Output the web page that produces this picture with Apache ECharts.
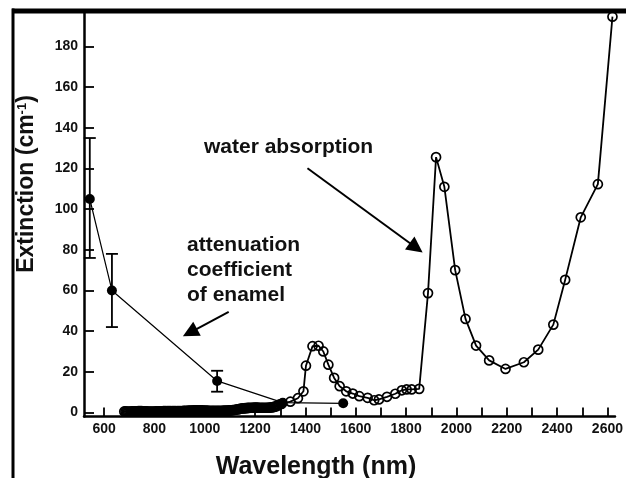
<!DOCTYPE html>
<html><head><meta charset="utf-8">
<script src="https://cdn.jsdelivr.net/npm/echarts@6/dist/echarts.min.js"></script>
<style>html,body{margin:0;padding:0;background:#fff}#c{width:626px;height:478px}</style>
</head><body><div id="c"></div>
<script>
// ---- data ----
const waterX = [
  680,685,690,695,700,705,710,715,720,725,
  730,735,740,745,750,755,760,765,770,775,
  780,785,790,795,800,805,810,815,820,825,
  830,835,840,845,850,855,860,865,870,875,
  880,885,890,895,900,905,910,915,920,925,
  930,935,940,945,950,955,960,965,970,975,
  980,985,990,995,1000,1005,1010,1015,1020,1025,
  1030,1035,1040,1045,1050,1055,1060,1065,1070,1075,
  1080,1085,1090,1095,1100,1105,1110,1115,1120,1125,
  1130,1135,1140,1145,1150,1155,1160,1165,1170,1175,
  1180,1185,1190,1195,1200,1205,1210,1215,1220,1225,
  1230,1235,1240,1245,1250,1255,1260,1265,1270,1275,
  1280,1285,1290,1295,
  1305,1340,1370,1392,1402,1428,1452,1471,1491,1514,
  1536,1562,1588,1614,1647,1673,1692,1724,1757,1783,
  1802,1822,1852,1887,1919,1952,1995,2036,2078,2130,
  2195,2268,2325,2385,2432,2494,2562,2620];
const waterY = [
  0.5,0.5,0.4,0.4,0.4,0.4,0.5,0.5,0.5,0.5,
  0.5,0.6,0.6,0.6,0.6,0.5,0.5,0.5,0.5,0.4,
  0.4,0.4,0.4,0.4,0.4,0.5,0.5,0.5,0.5,0.5,
  0.5,0.6,0.6,0.6,0.6,0.6,0.6,0.6,0.6,0.6,
  0.6,0.7,0.7,0.7,0.7,0.7,0.7,0.8,0.8,0.8,
  0.8,0.9,0.9,0.9,0.9,1.0,1.0,1.0,1.0,1.0,
  1.0,1.0,1.0,0.9,0.9,0.9,0.9,0.8,0.8,0.8,
  0.8,0.8,0.8,0.8,0.8,0.8,0.8,0.8,0.8,0.9,
  0.9,0.9,0.9,1.0,1.0,1.0,1.1,1.2,1.3,1.4,
  1.5,1.6,1.8,1.9,2.0,2.0,2.1,2.1,2.2,2.2,
  2.3,2.3,2.3,2.4,2.4,2.4,2.4,2.3,2.3,2.3,
  2.3,2.3,2.3,2.3,2.3,2.4,2.4,2.5,2.6,2.7,
  2.9,3.1,3.4,3.8,
  4.2,5.3,7.0,10.4,23,32.6,32.8,30,23.5,17,
  12.9,10.4,9.3,8,7.2,6,6.4,7.7,9.2,10.9,
  11.3,11.3,11.6,58.7,125.6,111,70,46,32.9,25.6,
  21.4,24.7,30.9,43.2,65.2,96,112.3,194.7];
const enamelX = [543, 631, 1049, 1310, 1550];
const enamelY = [105, 60, 15.5, 4.8, 4.5];
const enamelErrLow  = [76, 42, 10.2];
const enamelErrHigh = [135, 78, 20.5];
const xTickLabels = [600,800,1000,1200,1400,1600,1800,2000,2200,2400,2600];
const xTickMarks = [600,700,800,900,1000,1100,1200,1300,1400,1500,1600,1700,1800,1900,2000,2100,2200,2300,2400,2500,2600];
const yTickLabels = [0,20,40,60,80,100,120,140,160,180];

const FONT = '"Liberation Sans", Arial, Helvetica, sans-serif';
const chart = echarts.init(document.getElementById('c'), null, {renderer:'canvas'});
const tickLabel = {color:'#111', fontFamily:FONT, fontWeight:'bold', fontSize:14, formatter:function(v){return String(v);}};
const option = {
  animation:false,
  backgroundColor:'#fff',
  grid:{left:84, right:0, top:12, bottom:61.5, containLabel:false},
  xAxis:{type:'value', min:520, max:2630,
    axisLine:{show:true, onZero:false, lineStyle:{color:'#000', width:2.5}},
    axisTick:{show:true, inside:true, length:9, lineStyle:{color:'#000', width:1.8}, customValues:xTickMarks},
    axisLabel:Object.assign({customValues:xTickLabels, margin:6}, tickLabel),
    splitLine:{show:false}},
  yAxis:{type:'value', min:-2, max:197,
    axisLine:{show:true, onZero:false, lineStyle:{color:'#000', width:2.5}},
    axisTick:{show:true, inside:true, length:10, lineStyle:{color:'#000', width:1.8}, customValues:yTickLabels},
    axisLabel:Object.assign({customValues:yTickLabels, margin:6}, tickLabel),
    splitLine:{show:false}},
  series:[
    {type:'line', name:'water', data:waterX.map((x,i)=>[x, waterY[i]]),
      symbol:'circle', symbolSize:9, showAllSymbol:true,
      lineStyle:{color:'#000', width:1.8},
      itemStyle:{color:'rgba(0,0,0,0)', borderColor:'#000', borderWidth:1.7}, z:2},
    {type:'line', name:'enamel', data:enamelX.map((x,i)=>[x, enamelY[i]]),
      symbol:'circle', symbolSize:10,
      lineStyle:{color:'#000', width:1.2},
      itemStyle:{color:'#000'}, z:3},
    {type:'custom', name:'errorbars', z:3,
      data:enamelErrLow.map((lo,i)=>[enamelX[i], lo, enamelErrHigh[i]]),
      encode:{x:0, y:[1,2]},
      renderItem:function(params, api){
        const x = api.value(0);
        const lo = api.coord([x, api.value(1)]);
        const hi = api.coord([x, api.value(2)]);
        const hw = 6, st = {stroke:'#000', lineWidth:1.8};
        return {type:'group', children:[
          {type:'line', shape:{x1:lo[0], y1:lo[1], x2:hi[0], y2:hi[1]}, style:st},
          {type:'line', shape:{x1:lo[0]-hw, y1:lo[1], x2:lo[0]+hw, y2:lo[1]}, style:st},
          {type:'line', shape:{x1:hi[0]-hw, y1:hi[1], x2:hi[0]+hw, y2:hi[1]}, style:st}
        ]};
      }},
    {type:'line', name:'arrows', data:[], silent:true,
      markLine:{silent:true, symbol:['none','triangle'], symbolSize:16, label:{show:false},
        lineStyle:{color:'#000', width:2, type:'solid'},
        data:[
          [{coord:[1408,120.1]},{coord:[1840,81]}],
          [{coord:[1095,49.5]},{coord:[941,39.3]}]
        ]}}
  ],
  graphic:[
    {type:'rect', shape:{x:12, y:8.5, width:614, height:5}, style:{fill:'#000'}, z:100},
    {type:'rect', shape:{x:11.5, y:8.5, width:3, height:470}, style:{fill:'#000'}, z:100},
    {type:'text', x:27, y:184, rotation:Math.PI/2,
      style:{text:'{a|Extinction (cm}{s|-1}{a|)}', align:'center', verticalAlign:'middle',
        rich:{a:{fontSize:23, fontWeight:'bold', fontFamily:FONT, fill:'#111'},
              s:{fontSize:13, fontWeight:'bold', fontFamily:FONT, fill:'#111', verticalAlign:'top'}}}},
    {type:'text', x:316, y:467,
      style:{text:'Wavelength (nm)', font:'bold 25px '+FONT, fill:'#111', align:'center', verticalAlign:'middle'}},
    {type:'text', x:204, y:147,
      style:{text:'water absorption', font:'bold 21px '+FONT, fill:'#111', align:'left', verticalAlign:'middle'}},
    {type:'text', x:187, y:232.5,
      style:{text:'attenuation\ncoefficient\nof enamel', font:'bold 21px '+FONT, lineHeight:25, fill:'#111', align:'left', verticalAlign:'top'}}
  ]
};
chart.setOption(option);
</script>
</body></html>
